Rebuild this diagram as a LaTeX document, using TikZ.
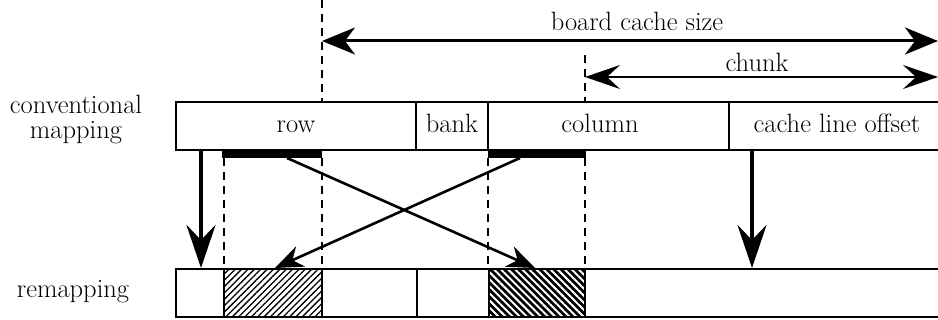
\documentclass[tikz,border=0pt]{standalone}
\usetikzlibrary{arrows.meta,patterns.meta}
\begin{document}
\begin{tikzpicture}[x=1pt,y=-1pt,
  field/.style={draw,line width=1.5pt},
  lbl/.style={font=\rmfamily\fontsize{26.5}{25}\selectfont, inner sep=0pt, anchor=base, align=center},
  guide/.style={line width=2pt, dash pattern=on 8pt off 6pt},
  bar/.style={fill=black},
  dimarrow/.style={{Stealth[length=33pt,width=27pt,inset=10pt]}-{Stealth[length=33pt,width=27pt,inset=10pt]}, line width=3pt},
  chunkarrow/.style={{Stealth[length=35pt,width=24pt,inset=13pt]}-{Stealth[length=35pt,width=24pt,inset=13pt]}, line width=1.6pt},
  crossarrow/.style={-{Stealth[length=28pt,width=22pt,inset=9pt]}, line width=2.6pt},
  thickarrow/.style={-{Stealth[length=43pt,width=29pt,inset=15pt]}, line width=4.5pt}]
\useasboundingbox (0,0) rectangle (938,320);
\clip (0,0) rectangle (938,320);

% conventional mapping fields
\draw[field] (176,102) rectangle (416,150);
\draw[field] (416,102) rectangle (488,150);
\draw[field] (488,102) rectangle (729,150);
\draw[field] (729,102) rectangle (960,150);
\node[lbl] (rowtxt) at (296,133) {row};
\node[lbl] (banktxt) at (452,133) {bank};
\node[lbl] (coltxt) at (600,133) {column};
\node[lbl] (offtxt) at (837,133) {cache line offset};

% remapping fields
\path[pattern={Lines[angle=45,distance=4.5pt,line width=1.3pt]}] (224,269) rectangle (322,317);
\fill[black] (489,269) rectangle (585,317);
\path[pattern={Lines[angle=-45,distance=5pt,line width=2pt]}, pattern color=white] (489,269) rectangle (585,317);
\draw[field] (176,269) rectangle (224,317);
\draw[field] (224,269) rectangle (322,317);
\draw[field] (322,269) rectangle (417,317);
\draw[field] (417,269) rectangle (489,317);
\draw[field] (489,269) rectangle (585,317);
\draw[field] (585,269) rectangle (960,317);

% side labels
\node[lbl] (conv) at (76,139) {conventional\\mapping};
\node[lbl] (remap) at (73,298) {remapping};

% bars under row and column
\fill[bar] (222,150) rectangle (322,158);
\fill[bar] (488,150) rectangle (586,158);

% dashed guides
\draw[guide] (322,0) -- (322,102);
\draw[guide] (585,55) -- (585,102);
\draw[guide] (224,158) -- (224,269);
\draw[guide] (322,158) -- (322,269);
\draw[guide] (488,158) -- (488,269);
\draw[guide] (585,158) -- (585,269);

% coordinates
\coordinate (bcsL) at (322,41);
\coordinate (bcsR) at (938,41);
\coordinate (chL) at (585,77);
\coordinate (chR) at (938,77);
\coordinate (rowsrc) at (287,158);
\coordinate (rowdst) at (535,268);
\coordinate (colsrc) at (520,158);
\coordinate (coldst) at (275,268);
\coordinate (lsrc) at (201,150);
\coordinate (ldst) at (201,268);
\coordinate (osrc) at (752,150);
\coordinate (odst) at (752,268);

% dimension arrows
\draw[dimarrow] (bcsL) -- (bcsR);
\node[lbl] (bcs) at (637,31) {board cache size};
\draw[chunkarrow] (chL) -- (chR);
\node[lbl] (chunk) at (757,72) {chunk};

% mapping arrows
\draw[crossarrow] (rowsrc) -- (rowdst);
\draw[crossarrow] (colsrc) -- (coldst);
\draw[thickarrow] (lsrc) -- (ldst);
\draw[thickarrow] (osrc) -- (odst);
\end{tikzpicture}
\end{document}
